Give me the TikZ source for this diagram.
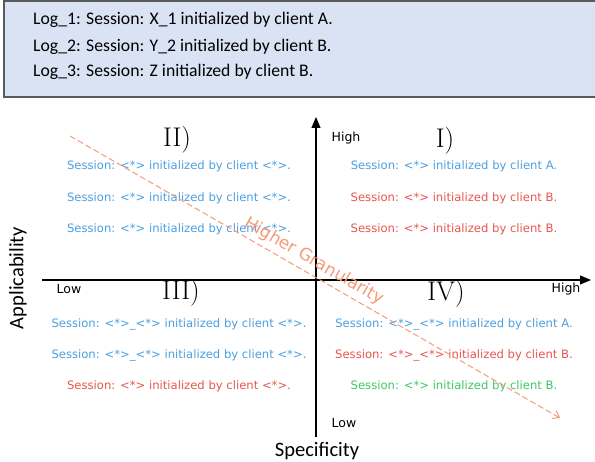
\documentclass[tikz,border=0pt]{standalone}
\usepackage{fontspec}
\usepackage{tikz}
\usepackage{xcolor}
\usetikzlibrary{arrows.meta}
\newfontfamily\calfont{Carlito}
\newfontfamily\djfont{DejaVu Sans}
\definecolor{logbg}{HTML}{DAE3F3}
\definecolor{logframe}{HTML}{5A5A5A}
\definecolor{tplblue}{HTML}{4A9FE0}
\definecolor{tplred}{HTML}{E8554E}
\definecolor{tplgreen}{HTML}{3CC864}
\definecolor{granorange}{HTML}{F59A78}

\begin{document}
\begin{tikzpicture}[x=1pt,y=1pt,
  logline/.style={anchor=west,inner sep=0pt,font=\calfont\fontsize{17.7}{21}\selectfont},
  tpl/.style={inner sep=0pt,font=\djfont\fontsize{11.6}{14}\selectfont},
  level/.style={inner sep=0pt,font=\djfont\fontsize{12.5}{15}\selectfont},
  quad/.style={inner sep=0pt,font=\fontsize{27}{31}\selectfont},
  axislabel/.style={inner sep=0pt,font=\calfont\fontsize{20.5}{24}\selectfont},
  axis/.style={line width=1.1pt,-{Triangle[length=11pt,width=9pt]}}]
\useasboundingbox (0,0) rectangle (595,461);

\fill[logbg] (4,460) rectangle (597,364);
\draw[logframe,line width=1.2pt] (597,460) -- (4,460) -- (4,364) -- (597,364);
\node[logline] (log1) at (33,441) {Log\_1: Session: X\_1 initialized by client A.};
\node[logline] (log2) at (33,414) {Log\_2: Session: Y\_2 initialized by client B.};
\node[logline] (log3) at (33,389) {Log\_3: Session: Z initialized by client B.};

\coordinate (xmin) at (42,181);
\coordinate (xmax) at (591,181);
\coordinate (ymin) at (316,24);
\coordinate (ymax) at (316,344);
\draw[axis] (xmin) -- (xmax);
\draw[axis] (ymin) -- (ymax);

\node[level] (yhigh) at (346,323) {High};
\node[level] (xlow) at (69,172) {Low};
\node[level] (xhigh) at (566,172) {High};
\node[level] (ylow) at (344,38) {Low};
\node[axislabel,rotate=90] (applic) at (18,183) {Applicability};
\node[axislabel] (specif) at (317,10) {Specificity};

\node[quad] (q2) at (177,321) {II)};
\node[quad] (q1) at (445,320) {I)};
\node[quad] (q3) at (181,168) {III)};
\node[quad] (q4) at (446,167) {IV)};

\node[tpl,tplblue] (q2a) at (179,295) {Session: <*> initialized by client <*>.};
\node[tpl,tplblue] (q2b) at (179,263) {Session: <*> initialized by client <*>.};
\node[tpl,tplblue] (q2c) at (179,232) {Session: <*> initialized by client <*>.};

\node[tpl,tplblue] (q1a) at (454,295) {Session: <*> initialized by client A.};
\node[tpl,tplred] (q1b) at (454,263) {Session: <*> initialized by client B.};
\node[tpl,tplred] (q1c) at (454,232) {Session: <*> initialized by client B.};

\node[tpl,tplblue] (q3a) at (179,137) {Session: <*>\_<*> initialized by client <*>.};
\node[tpl,tplblue] (q3b) at (179,106) {Session: <*>\_<*> initialized by client <*>.};
\node[tpl,tplred] (q3c) at (179,75) {Session: <*> initialized by client <*>.};

\node[tpl,tplblue] (q4a) at (454,137) {Session: <*>\_<*> initialized by client A.};
\node[tpl,tplred] (q4b) at (454,106) {Session: <*>\_<*> initialized by client B.};
\node[tpl,tplgreen] (q4c) at (454,75) {Session: <*> initialized by client B.};

\coordinate (granstart) at (70,325);
\coordinate (granend) at (560,43);
\draw[granorange,line width=1pt,dash pattern=on 6pt off 3pt,-{Straight Barb[length=6pt,width=9pt]}]
  (granstart) -- node[pos=0.485,sloped,above=4.5pt,inner sep=0pt,text=granorange,font=\djfont\fontsize{17}{20}\selectfont] (granlabel) {Higher Granularity} (granend);
\end{tikzpicture}
\end{document}
